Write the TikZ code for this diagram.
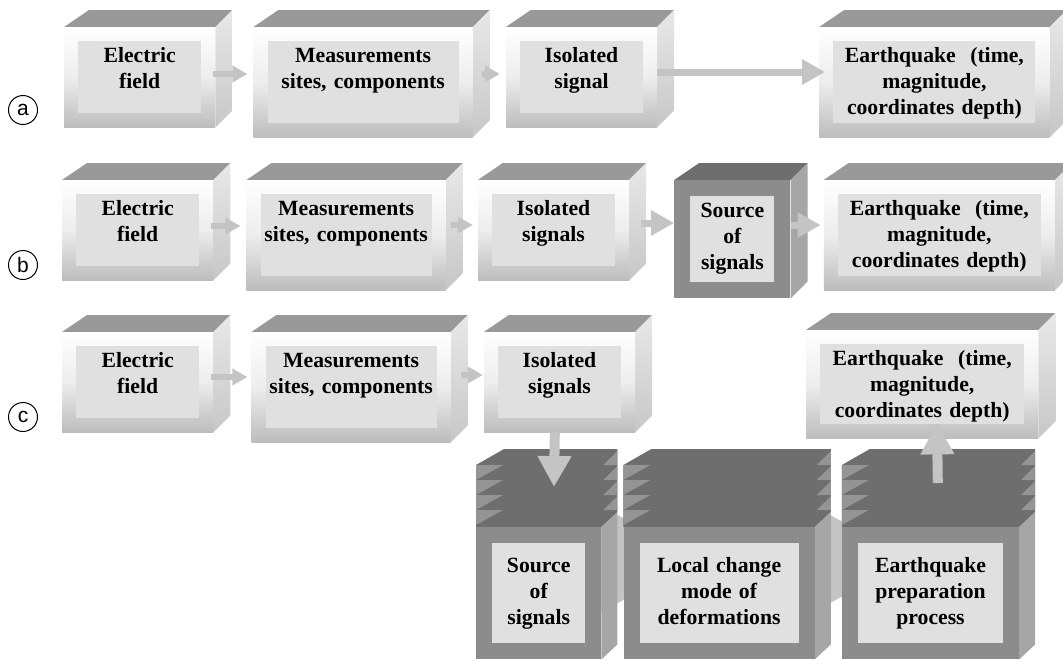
\documentclass[tikz,border=0pt]{standalone}
\usepackage{fontspec}
\setmainfont{Liberation Serif}
\newfontfamily\letterfont{Liberation Sans}
\usetikzlibrary{arrows.meta,positioning,calc}
\pgfdeclarelayer{achter}
\pgfsetlayers{achter,main}
\tikzset{
	blok/.style = {rectangle, anchor=north west, inner sep=0pt, align=center,
		font=\bfseries\fontsize{21.7}{26}\selectfont},% tekst bovenaan
	licht/.style 2 args = {blok, text width=#1, text height=35pt, text depth=#2,
		top color=white, bottom color=black!26, middle color=black!7,
		path picture={\fill[black!12] ([shift={(14pt,-14pt)}]path picture bounding box.north west)
			rectangle ([shift={(-14pt,14pt)}]path picture bounding box.south east);},
		append after command={\pgfextra{
			\fill[black!40] (\tikzlastnode.north west) -- ++(25pt,17pt)
				-- ([shift={(17pt,17pt)}]\tikzlastnode.north east) -- (\tikzlastnode.north east) -- cycle;
			\shade[top color=black!9, bottom color=black!22] (\tikzlastnode.north east) -- ++(17pt,17pt)
				-- ([shift={(17pt,17pt)}]\tikzlastnode.south east) -- (\tikzlastnode.south east) -- cycle;}}},% lichte doos
	donker/.style 2 args = {blok, text width=#1, text height=37pt, text depth=#2, fill=black!45,
		path picture={\fill[black!12] ([shift={(16pt,-16pt)}]path picture bounding box.north west)
			rectangle ([shift={(-16pt,16pt)}]path picture bounding box.south east);},
		append after command={\pgfextra{
			\fill[black!57] (\tikzlastnode.north west) -- ++(25pt,17pt)
				-- ([shift={(17pt,17pt)}]\tikzlastnode.north east) -- (\tikzlastnode.north east) -- cycle;
			\fill[black!35] (\tikzlastnode.north east) -- ++(17pt,17pt)
				-- ([shift={(17pt,17pt)}]\tikzlastnode.south east) -- (\tikzlastnode.south east) -- cycle;}}},% donkere doos
	stapel/.style 2 args = {blok, text width=#1, text height=45pt, text depth=#2, fill=black!45,
		path picture={\fill[black!12] ([shift={(16pt,-16pt)}]path picture bounding box.north west)
			rectangle ([shift={(-16pt,16pt)}]path picture bounding box.south east);},
		append after command={\pgfextra{
			\fill[black!57] (\tikzlastnode.north west) -- ++(0pt,62pt) -- ++(28pt,16pt)
				-- ([shift={(16pt,78pt)}]\tikzlastnode.north east) -- ([shift={(16pt,15pt)}]\tikzlastnode.north east)
				-- (\tikzlastnode.north east) -- cycle;
			\fill[black!35] (\tikzlastnode.north east) -- ++(16pt,15pt)
				-- ([shift={(16pt,15pt)}]\tikzlastnode.south east) -- (\tikzlastnode.south east) -- cycle;
			\foreach \k in {0,...,3}{
				\fill[black!42] ([yshift=62pt-15pt*\k]\tikzlastnode.north west) -- ++(27pt,0pt) -- ++(-27pt,-15pt) -- cycle;
				\fill[black!42] ([shift={(2pt,62pt-15pt*\k)}]\tikzlastnode.north east) -- ++(14pt,0pt) -- ++(0pt,14pt) -- cycle;
			}}}},% gestapelde doos
	letter/.style = {circle, draw, line width=1pt, minimum size=29pt, inner sep=0pt,
		font=\letterfont\fontsize{21}{21}\selectfont},
	pijl/.style = {draw=black!23, line width=6pt, -{Triangle[width=16pt,length=15pt]}},
	pijlgroot/.style = {draw=black!23, line width=7pt, -{Triangle[width=24pt,length=23pt]}},
	pijlhoog/.style = {draw=black!23, line width=10pt, -{Triangle[width=32pt,length=31pt]}},
	brug/.style = {draw=black!23, line width=30pt, -{Triangle[width=132pt,length=133pt]}}
}
\begin{document}
\begin{tikzpicture}[x=1pt, y=-1pt]
	\useasboundingbox (0,0) rectangle (1063,659);
	% rij a
	\node [letter] (la) at (23,110) {a};
	\node [licht={151pt}{65pt}] (A1) at (64,27) {Electric\\field};
	\node [licht={219pt}{75pt}, right=38pt of A1.north east, anchor=north west] (A2) {Measurements\\sites, components};
	\node [licht={151pt}{65pt}, right=33pt of A2.north east, anchor=north west] (A3) {Isolated\\signal};
	\node [licht={230pt}{75pt}, right=162pt of A3.north east, anchor=north west] (A4) {Earthquake\ \ (time,\\magnitude,\\coordinates depth)};
	\draw [pijl] ($(A1.north east)+(-2,47)$) -- ($(A2.north west)+(-6,47)$);
	\draw [pijl] ($(A2.north east)+(9,47)$) -- ($(A3.north west)+(-6,47)$);
	\draw [pijlgroot] ($(A3.north east)+(0,45)$) -- ($(A4.north west)+(6,45)$);
	% rij b
	\node [letter] (lb) at (23,265) {b};
	\node [licht={151pt}{65pt}] (B1) at (62,180) {Electric\\field};
	\node [licht={199pt}{75pt}, right=33pt of B1.north east, anchor=north west] (B2) {Measurements\\sites, components};
	\node [licht={151pt}{65pt}, right=32pt of B2.north east, anchor=north west] (B3) {Isolated\\signals};
	\node [donker={116pt}{81pt}, right=45pt of B3.north east, anchor=north west] (B4) {Source\\of\\signals};
	\node [licht={231pt}{75pt}, right=33pt of B4.north east, anchor=north west] (B5) {Earthquake\ \ (time,\\magnitude,\\coordinates depth)};
	\draw [pijl] ($(B1.north east)+(-2,46)$) -- ($(B2.north west)+(-6,46)$);
	\draw [pijl] ($(B2.north east)+(5,45)$) -- ($(B3.north west)+(-5,45)$);
	\draw [pijlgroot] ($(B3.north east)+(12,43)$) -- ($(B4.north west)+(0,43)$);
	\draw [pijlgroot] ($(B4.north east)+(0,45)$) -- ($(B5.north west)+(-3,45)$);
	% rij c
	\node [letter] (lc) at (23,417) {c};
	\node [licht={151pt}{65pt}] (C1) at (62,332) {Electric\\field};
	\node [licht={199pt}{75pt}, right=38pt of C1.north east, anchor=north west] (C2) {Measurements\\sites, components};
	\node [licht={151pt}{65pt}, right=33pt of C2.north east, anchor=north west] (C3) {Isolated\\signals};
	\node [licht={232pt}{73pt}] (C4) at (806,330) {Earthquake\ \ (time,\\magnitude,\\coordinates depth)};
	\node [stapel={125pt}{87pt}] (D1) at (476,527) {Source\\of\\signals};
	\node [stapel={191pt}{87pt}, right=22pt of D1.north east, anchor=north west] (D2) {Local change\\mode of\\deformations};
	\node [stapel={177pt}{87pt}, right=27pt of D2.north east, anchor=north west] (D3) {Earthquake\\preparation\\process};
	\begin{pgfonlayer}{achter}
		\draw [brug] ($(D1.north west)+(62,32)$) -- ($(D2.north west)+(78,32)$);
		\draw [brug] ($(D2.north west)+(95,32)$) -- ($(D3.north west)+(72,32)$);
	\end{pgfonlayer}
	\draw [pijl] ($(C1.north east)+(-2,45)$) -- ($(C2.north west)+(-4,45)$);
	\draw [pijl] ($(C2.north east)+(10,43)$) -- ($(C3.north west)+(-1,43)$);
	\draw [pijlhoog] ($(C3.south west)+(71,0)$) -- ($(D1.north west)+(78,-40)$);
	\draw [pijlhoog] ($(D3.north west)+(96,-44)$) -- ($(C4.south west)+(131,-15)$);
\end{tikzpicture}
\end{document}
